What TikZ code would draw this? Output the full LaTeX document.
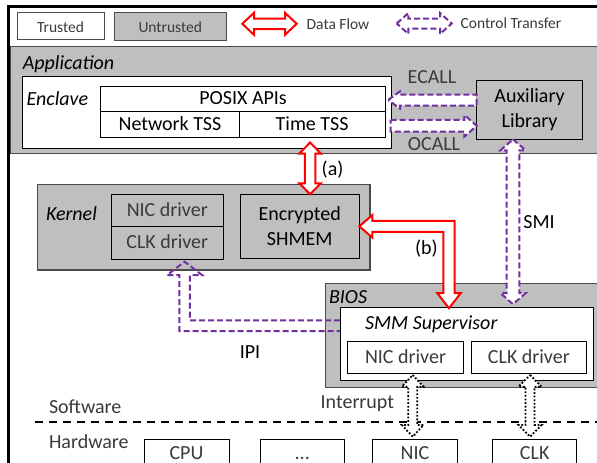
\documentclass[tikz,border=0pt]{standalone}
\usepackage{fontspec}
\setmainfont{Carlito}
\usetikzlibrary{calc}
\definecolor{fillg}{HTML}{BFBFBF}
\definecolor{purp}{HTML}{7030A0}
\definecolor{lighttxt}{HTML}{3A3A3A}
\definecolor{edgeg}{HTML}{4A4A4A}
\newcommand\fsBig{\fontsize{20}{24.4}\selectfont}
\newcommand\fsLeg{\fontsize{15.5}{18}\selectfont}
% vertical double block arrow: style, top point, bottom point, w, h, l
\newcommand\VDarrow[6]{%
 \draw[#1] let \p1=#2, \p2=#3 in
 (\x1,\y1) -- (\x1+#5,\y1-#6) -- (\x1+#4,\y1-#6) -- (\x1+#4,\y2+#6) -- (\x1+#5,\y2+#6) -- (\x1,\y2)
 -- (\x1-#5,\y2+#6) -- (\x1-#4,\y2+#6) -- (\x1-#4,\y1-#6) -- (\x1-#5,\y1-#6) -- cycle;}
% horizontal double block arrow: style, left point, right point, w, h, l
\newcommand\HDarrow[6]{%
 \draw[#1] let \p1=#2, \p2=#3 in
 (\x1,\y1) -- (\x1+#6,\y1+#5) -- (\x1+#6,\y1+#4) -- (\x2-#6,\y1+#4) -- (\x2-#6,\y1+#5) -- (\x2,\y1)
 -- (\x2-#6,\y1-#5) -- (\x2-#6,\y1-#4) -- (\x1+#6,\y1-#4) -- (\x1+#6,\y1-#5) -- cycle;}
% left-pointing block arrow: style, tip (left), tail (right), w, h, l
\newcommand\Larrow[6]{%
 \draw[#1] let \p1=#2, \p2=#3 in
 (\x1,\y1) -- (\x1+#6,\y1+#5) -- (\x1+#6,\y1+#4) -- (\x2,\y1+#4) -- (\x2,\y1-#4) -- (\x1+#6,\y1-#4) -- (\x1+#6,\y1-#5) -- cycle;}
% right-pointing block arrow: style, tail (left), tip (right), w, h, l
\newcommand\Rarrow[6]{%
 \draw[#1] let \p1=#2, \p2=#3 in
 (\x1,\y1+#4) -- (\x2-#6,\y1+#4) -- (\x2-#6,\y1+#5) -- (\x2,\y1) -- (\x2-#6,\y1-#5) -- (\x2-#6,\y1-#4) -- (\x1,\y1-#4) -- cycle;}
\begin{document}
\begin{tikzpicture}[x=1pt,y=-1pt,
  every node/.style={inner sep=0pt,outer sep=0pt},
  capt/.style={text height=12.9pt,text depth=0pt},
  legt/.style={text height=13pt,text depth=0pt},
  wbox/.style={draw=black,line width=0.9pt,fill=white,font=\fsBig,anchor=north west},
  gbox/.style={draw=black,line width=0.9pt,fill=fillg,font=\fsBig,anchor=north west},
  region/.style={draw=edgeg,line width=1.2pt,fill=fillg,anchor=north west},
  lbl/.style={font=\fsBig},
  lgt/.style={text=lighttxt},
  dflow/.style={draw=red,line width=2pt,fill=white,line join=miter},
  ctrl/.style={draw=purp,line width=2pt,fill=white,dash pattern=on 6pt off 3pt},
  ctrlnf/.style={draw=purp,line width=2pt,dash pattern=on 6pt off 3pt},
  intr/.style={draw=black,line width=1.8pt,fill=white,dash pattern=on 1.8pt off 1.8pt}]
\useasboundingbox (0,0) rectangle (597,463);
\clip (0,0) rectangle (597,463);
\fill[white] (0,0) rectangle (597,463);

% legend
\node[draw=edgeg,line width=0.9pt,fill=white,anchor=north west,minimum width=87pt,minimum height=27pt,font=\fsLeg,lgt,legt] (legT) at (17,12) {Trusted};
\node[draw=edgeg,line width=0.9pt,fill=fillg,anchor=north west,minimum width=112.5pt,minimum height=28pt,font=\fsLeg,lgt,legt] (legU) at (114,12) {Untrusted};
\coordinate (df1) at (242.3,23.8);
\coordinate (df2) at (296.7,23.8);
\HDarrow{dflow}{(df1)}{(df2)}{5.3pt}{11pt}{11.7pt}
\node[font=\fsLeg,lgt,anchor=base west] (dftxt) at (306.7,29.3) {Data Flow};
\coordinate (ct1) at (396.7,23.5);
\coordinate (ct2) at (451.7,23.5);
\HDarrow{ctrl}{(ct1)}{(ct2)}{5pt}{10.5pt}{11.7pt}
\node[font=\fsLeg,lgt,anchor=base west] (cttxt) at (460.6,28.5) {Control Transfer};

% application
\node[draw=edgeg,line width=1.3pt,fill=fillg,anchor=north west,minimum width=620pt,minimum height=106.6pt] (app) at (10,46.7) {};
\node[lbl,anchor=base west] (apptxt) at (22.8,69) {\itshape Application};
\node[wbox,minimum width=369pt,minimum height=72.3pt] (encl) at (22.7,76) {};
\node[lbl,anchor=base west] (encltxt) at (26.6,105.7) {\itshape Enclave};
\node[wbox,capt,minimum width=284.3pt,minimum height=25pt] (posix) at (100.9,86) {POSIX APIs};
\node[wbox,capt,minimum width=138.1pt,minimum height=26.5pt] (nts) at (100.9,111) {Network TSS};
\node[wbox,capt,minimum width=146.2pt,minimum height=26.5pt] (tts) at (239,111) {Time TSS};
\node[gbox,align=center,minimum width=105.8pt,minimum height=59.3pt] (aux) at (476.7,80) {Auxiliary\\Library};
\node[lbl,lgt,anchor=base] (ecall) at (432,83) {ECALL};
\node[lbl,lgt,anchor=base] (ocall) at (434,150) {OCALL};

% kernel
\node[region,minimum width=332.3pt,minimum height=85.7pt] (kern) at (37.7,184.3) {};
\node[lbl,anchor=base west] (kerntxt) at (46,220) {\itshape Kernel};
\node[gbox,capt,lgt,minimum width=112.5pt,minimum height=31.7pt] (knic) at (111,194.3) {NIC driver};
\node[gbox,capt,lgt,minimum width=112.5pt,minimum height=33pt] (kclk) at (111,226) {CLK driver};
\node[gbox,align=center,minimum width=119.1pt,minimum height=64pt] (shm) at (240.2,194.3) {Encrypted\\SHMEM};

% BIOS
\node[region,minimum width=300pt,minimum height=104.4pt] (bios) at (325.7,283.3) {};
\node[lbl,anchor=base west] (biostxt) at (329,303.3) {\itshape BIOS};
\node[wbox,minimum width=253pt,minimum height=73pt] (smm) at (340,307.7) {};
\node[lbl,anchor=base west] (smmtxt) at (365,329) {\itshape SMM Supervisor};
\node[wbox,capt,lgt,minimum width=115.6pt,minimum height=32.3pt] (bnic) at (347.7,341) {NIC driver};
\node[wbox,capt,lgt,minimum width=115.7pt,minimum height=32.3pt] (bclk) at (471,341) {CLK driver};

% software / hardware
\coordinate (sw1) at (35,421.7);
\coordinate (sw2) at (610,421.7);
\draw[line width=2.3pt,dash pattern=on 8.3pt off 5.7pt] (sw1) -- (sw2);
\node[lbl,lgt,anchor=base west] (swtxt) at (49,413) {Software};
\node[lbl,lgt,anchor=base west] (hwtxt) at (49,448) {Hardware};
\node[wbox,minimum width=85pt,minimum height=40pt] (cpu) at (144,439.3) {};
\node[wbox,minimum width=84.5pt,minimum height=40pt] (dots) at (260,439.3) {};
\node[wbox,minimum width=84.8pt,minimum height=40pt] (hnic) at (372.5,439.3) {};
\node[wbox,minimum width=84pt,minimum height=40pt] (hclk) at (492.7,439.3) {};
\node[lbl,lgt,capt,anchor=base] (cputxt) at ($(cpu.north)+(0,19.9)$) {CPU};
\node[lbl,lgt,capt,anchor=base] (dotstxt) at ($(dots.north)+(0,19.9)$) {...};
\node[lbl,lgt,capt,anchor=base] (hnictxt) at ($(hnic.north)+(0,19.9)$) {NIC};
\node[lbl,lgt,capt,anchor=base] (hclktxt) at ($(hclk.north)+(0,19.9)$) {CLK};

% ECALL / OCALL
\coordinate (ectip) at ($(posix.east)+(3,1.5)$);
\Larrow{ctrl}{(ectip)}{(ectip -| aux.west)}{5.5pt}{8.5pt}{11.7pt}
\coordinate (octail) at ($(tts.east)+(5.5,1.5)$);
\Rarrow{ctrl}{(octail)}{(octail -| aux.west)}{5.8pt}{10.8pt}{12.3pt}

% (a)
\coordinate (atop) at ($(tts.south)+(-2,5)$);
\VDarrow{dflow}{(atop)}{(shm.north -| atop)}{5.3pt}{10.7pt}{11pt}
\node[lbl,anchor=base west] (alab) at (321.7,175.5) {(a)};

% (b)
\coordinate (bbot) at ($(smm.north)+(-17.5,0.5)$);
\draw[dflow] let \p1=(shm.east), \p2=(bbot) in
 (\x1,\y1) -- (\x1+13pt,\y1+11.2pt) -- (\x1+13pt,\y1+5.5pt) -- (\x2+5.7pt,\y1+5.5pt) -- (\x2+5.7pt,\y2+15pt)
 -- (\x2+11.7pt,\y2+15pt) -- (\x2,\y2) -- (\x2-11.7pt,\y2+15pt) -- (\x2-5.7pt,\y2+15pt) -- (\x2-5.7pt,\y1-5.5pt)
 -- (\x1+13pt,\y1-5.5pt) -- (\x1+13pt,\y1-11.2pt) -- cycle;
\node[lbl,anchor=base west] (blab) at (415,254) {(b)};

% SMI
\coordinate (smitop) at ($(aux.south)+(-16.6,0)$);
\VDarrow{ctrl}{(smitop)}{($(smm.north -| smitop)+(0,-3.5)$)}{6.3pt}{12.5pt}{11pt}
\node[lbl,anchor=base west] (smilab) at (523.4,228) {SMI};

% IPI
\coordinate (ipic) at (184.6,325.7);
\draw[ctrlnf] let \p1=(ipic -| smm.west), \p2=($(kclk.south -| ipic)+(0,2.7)$) in
 (\x1,\y1+5.3pt) -- (\x2+5.3pt,\y1+5.3pt) -- (\x2+5.3pt,\y2-13.4pt) -- (\x2+17.5pt,\y2-13.4pt) -- (\x2,\y2)
 -- (\x2-17.5pt,\y2-13.4pt) -- (\x2-5.3pt,\y2-13.4pt) -- (\x2-5.3pt,\y1-5.3pt) -- (\x1,\y1-5.3pt);
\node[lbl,anchor=base] (ipilab) at (250,358) {IPI};

% Interrupts
\coordinate (in1) at ($(bnic.south)+(7.2,1.7)$);
\VDarrow{intr}{(in1)}{($(hnic.north -| in1)+(0,-2.6)$)}{4.5pt}{10.8pt}{11.7pt}
\coordinate (in2) at ($(bclk.south)+(1.2,1.7)$);
\VDarrow{intr}{(in2)}{($(hclk.north -| in2)+(0,-2.6)$)}{4.5pt}{11.5pt}{11.7pt}
\node[lbl,lgt,anchor=base west] (intlab) at (320.7,408.3) {Interrupt};

% outer frame
\coordinate (fr1) at (8.7,700);
\coordinate (fr2) at (700,6.7);
\draw[line width=2.5pt] (fr1) |- (fr2);
\end{tikzpicture}
\end{document}
